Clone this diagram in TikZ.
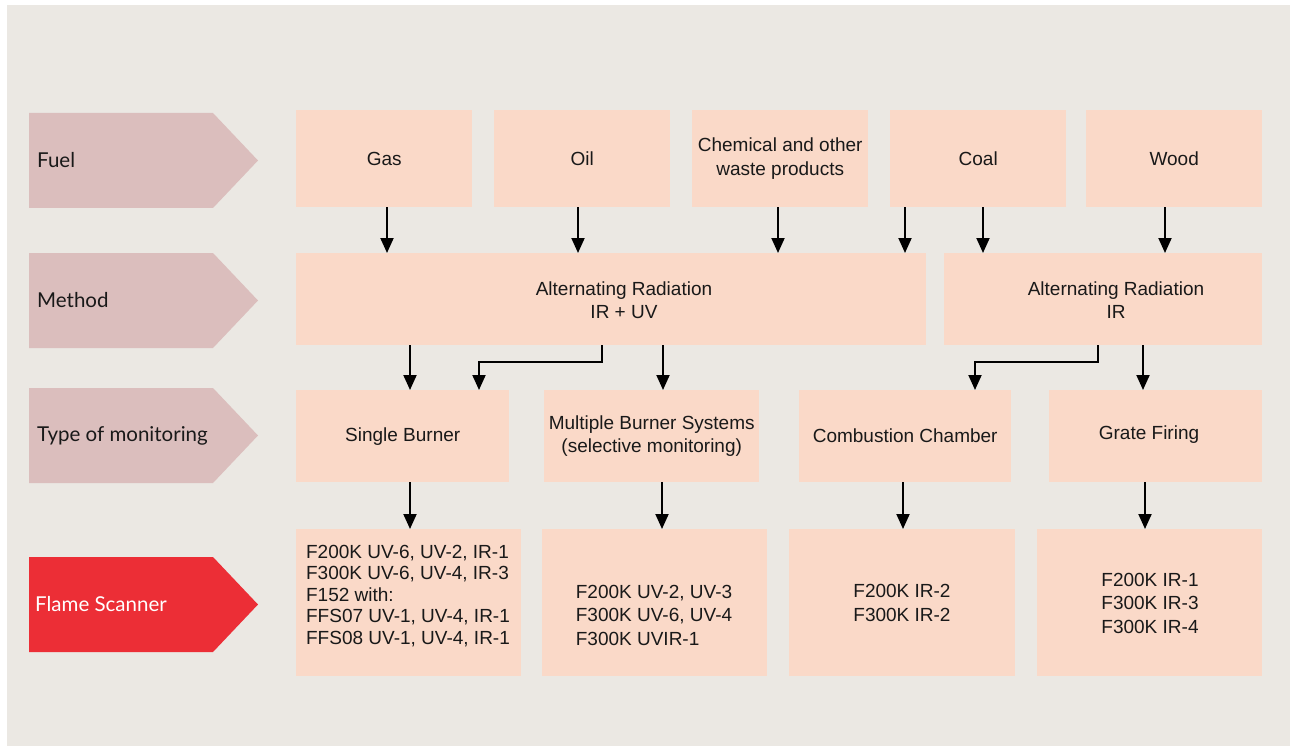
\documentclass[tikz,border=0pt]{standalone}
\usepackage{fontspec}
\setmainfont{Liberation Sans}
\newfontfamily\lblfont{Lato}
\usetikzlibrary{arrows.meta}
\definecolor{bggray}{RGB}{235,232,227}
\definecolor{peach}{RGB}{250,217,200}
\definecolor{lblpink}{RGB}{219,190,189}
\definecolor{scanred}{RGB}{236,46,54}
\definecolor{txt}{RGB}{25,25,25}
\begin{document}
\begin{tikzpicture}[x=1pt,y=-1pt,
  box/.style={fill=peach, inner sep=0pt, anchor=north west, align=center, text=txt,
    font=\fontsize{19}{23.5}\selectfont},
  btext/.style={inner sep=0pt, align=left, text=txt, font=\fontsize{19}{23.5}\selectfont},
  ctext/.style={inner sep=0pt, align=center, text=txt, font=\fontsize{19}{23.5}\selectfont},
  lbltext/.style={anchor=west, inner sep=0pt, text=txt, font=\lblfont\fontsize{20.5}{24}\selectfont},
  arr/.style={line width=2pt, draw=black, -{Triangle[width=13pt,length=15pt]}},
  ]
\useasboundingbox (0,0) rectangle (1290,746);
\fill[white] (0,0) rectangle (1290,746);
\fill[bggray] (7,5) rectangle (1290,746);

% row labels
\fill[lblpink] (29,113) -- (213,113) -- (258,160.5) -- (213,208) -- (29,208) -- cycle;
\fill[lblpink] (29,253) -- (213,253) -- (258,300.5) -- (213,348) -- (29,348) -- cycle;
\fill[lblpink] (29,388) -- (213,388) -- (258,435.5) -- (213,483) -- (29,483) -- cycle;
\fill[scanred] (29,557) -- (213,557) -- (258,604.5) -- (213,652) -- (29,652) -- cycle;
\node[lbltext] (lFuel) at (37,160.5) {Fuel};
\node[lbltext] (lMethod) at (37,300.5) {Method};
\node[lbltext] (lType) at (37,435.5) {Type of monitoring};
\node[lbltext, text=white] (lScan) at (35,604.5) {Flame Scanner};

% fuel row
\node[box, minimum width=176pt, minimum height=97pt] (gas) at (296,110) {Gas};
\node[box, minimum width=176pt, minimum height=97pt] (oil) at (494,110) {Oil};
\node[box, minimum width=176pt, minimum height=97pt] (chem) at (692,110) {Chemical and other\\waste products};
\node[box, minimum width=176pt, minimum height=97pt] (coal) at (890,110) {Coal};
\node[box, minimum width=176pt, minimum height=97pt] (wood) at (1086,110) {Wood};

% method row
\node[box, minimum width=630pt, minimum height=92pt] (m1) at (296,253) {};
\node[box, minimum width=318pt, minimum height=92pt] (m2) at (944,253) {};
\node[ctext] (m1t) at (624,300) {Alternating Radiation\\IR + UV};
\node[ctext] (m2t) at (1116,300) {Alternating Radiation\\IR};

% type row
\node[box, minimum width=213pt, minimum height=92pt] (sb) at (296,390) {Single Burner};
\node[box, minimum width=215pt, minimum height=92pt] (mb) at (544,390) {Multiple Burner Systems\\(selective monitoring)};
\node[box, minimum width=212pt, minimum height=92pt] (cc) at (799,390) {Combustion Chamber};
\node[box, minimum width=213pt, minimum height=92pt] (gf) at (1049,390) {};
\node[ctext] (gft) at (1149,435) {Grate Firing};

% scanner row
\node[box, minimum width=225pt, minimum height=147pt] (s1) at (296,529) {};
\node[box, minimum width=225pt, minimum height=147pt] (s2) at (542,529) {};
\node[box, minimum width=226pt, minimum height=147pt] (s3) at (789,529) {};
\node[box, minimum width=225pt, minimum height=147pt] (s4) at (1037,529) {};
\node[btext, font=\fontsize{19}{21.5}\selectfont] (s1t) at (408,596) {F200K UV-6, UV-2, IR-1\\F300K UV-6, UV-4, IR-3\\F152 with:\\FFS07 UV-1, UV-4, IR-1\\FFS08 UV-1, UV-4, IR-1};
\node[btext] (s2t) at (654,615) {F200K UV-2, UV-3\\F300K UV-6, UV-4\\F300K UVIR-1};
\node[btext] (s3t) at (902,603) {F200K IR-2\\F300K IR-2};
\node[btext] (s4t) at (1150,603) {F200K IR-1\\F300K IR-3\\F300K IR-4};

% column coordinates
\coordinate (cGas) at (387,0);
\coordinate (cOil) at (578,0);
\coordinate (cChem) at (778,0);
\coordinate (cCoalA) at (905,0);
\coordinate (cCoalB) at (983,0);
\coordinate (cWood) at (1165,0);
\coordinate (cSB1) at (410,0);
\coordinate (cE1) at (602,0);
\coordinate (cSB2) at (479,0);
\coordinate (cMB) at (663,0);
\coordinate (cE2) at (1098,0);
\coordinate (cCC) at (975,0);
\coordinate (cGF) at (1143,0);
\coordinate (cS1) at (410,0);
\coordinate (cS2) at (662,0);
\coordinate (cS3) at (903,0);
\coordinate (cS4) at (1145,0);
\coordinate (yElb) at (0,362);

% fuel -> method
\draw[arr] (gas.south -| cGas) -- (m1.north -| cGas);
\draw[arr] (oil.south -| cOil) -- (m1.north -| cOil);
\draw[arr] (chem.south -| cChem) -- (m1.north -| cChem);
\draw[arr] (coal.south -| cCoalA) -- (m1.north -| cCoalA);
\draw[arr] (coal.south -| cCoalB) -- (m2.north -| cCoalB);
\draw[arr] (wood.south -| cWood) -- (m2.north -| cWood);

% method -> type
\draw[arr] (m1.south -| cSB1) -- (sb.north -| cSB1);
\draw[arr] (m1.south -| cE1) -- (yElb -| cE1) -- (yElb -| cSB2) -- (sb.north -| cSB2);
\draw[arr] (m1.south -| cMB) -- (mb.north -| cMB);
\draw[arr] (m2.south -| cE2) -- (yElb -| cE2) -- (yElb -| cCC) -- (cc.north -| cCC);
\draw[arr] (m2.south -| cGF) -- (gf.north -| cGF);

% type -> scanner
\draw[arr] (sb.south -| cS1) -- (s1.north -| cS1);
\draw[arr] (mb.south -| cS2) -- (s2.north -| cS2);
\draw[arr] (cc.south -| cS3) -- (s3.north -| cS3);
\draw[arr] (gf.south -| cS4) -- (s4.north -| cS4);
\end{tikzpicture}
\end{document}
